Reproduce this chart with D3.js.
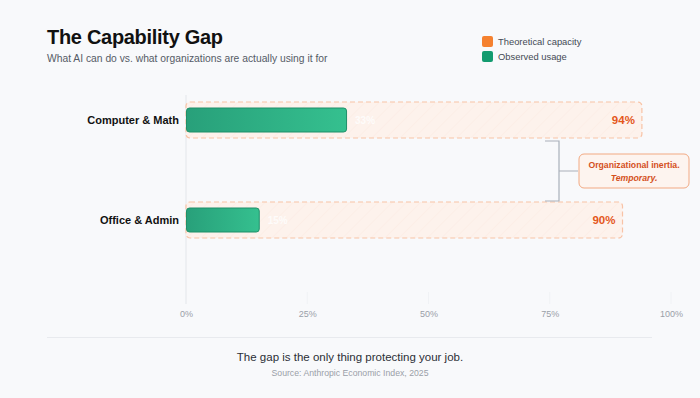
<!DOCTYPE html>
<html>
  <head>
    <title>The Capability Gap</title>
    <script src="https://d3js.org/d3.v7.min.js"></script>
    <style>
      body { margin: 0; background: #f8f9fb; }
      svg { display: block; font-family: "Liberation Sans", Arial, sans-serif; }
    </style>
  </head>
  <body>
    <div id="chart"></div>
    <script>
// Data
const categories = ["Computer & Math", "Office & Admin"];
const theoretical = [94, 90];
const observed = [33, 15];
const tickValues = [0, 25, 50, 75, 100];

const width = 700;
const height = 398;
const marginLeft = 186;
const marginRight = 29;

const svg = d3.select("#chart").append("svg")
  .attr("width", width)
  .attr("height", height)
  .attr("viewBox", [0, 0, width, height]);

const defs = svg.append("defs");

// hatch pattern for theoretical bars
const pat = defs.append("pattern")
  .attr("id", "hatch")
  .attr("patternUnits", "userSpaceOnUse")
  .attr("width", 10)
  .attr("height", 10)
  .attr("patternTransform", "rotate(45)");
pat.append("rect").attr("width", 10).attr("height", 10).attr("fill", "#fdf2ec");
pat.append("line").attr("x1", 0).attr("y1", 0).attr("x2", 0).attr("y2", 10)
  .attr("stroke", "#fcebe2").attr("stroke-width", 1);

const grad = defs.append("linearGradient").attr("id", "green");
grad.append("stop").attr("offset", "0%").attr("stop-color", "#28a07a");
grad.append("stop").attr("offset", "100%").attr("stop-color", "#35c08f");

// Scales
const x = d3.scaleLinear().domain([0, 100]).range([marginLeft, width - marginRight]);
const y = d3.scaleBand().domain(categories).range([70, 270])
  .paddingInner(0.64).paddingOuter(0.32);

// Title
svg.append("text")
  .attr("x", 47).attr("y", 44)
  .style("font-size", "20px").style("font-weight", "bold").attr("fill", "#111")
  .attr("letter-spacing", "-0.3")
  .text("The Capability Gap");

svg.append("text")
  .attr("x", 47).attr("y", 62)
  .style("font-size", "10.3px").attr("fill", "#555b66")
  .text("What AI can do vs. what organizations are actually using it for");

// Legend
const legend = [
  { label: "Theoretical capacity", color: "#f5812f" },
  { label: "Observed usage", color: "#139b6f" }
];
const lg = svg.append("g").selectAll("g").data(legend).join("g")
  .attr("transform", (d, i) => `translate(482,${36 + i * 15})`);
lg.append("rect").attr("width", 11).attr("height", 11).attr("rx", 2)
  .attr("fill", d => d.color);
lg.append("text").attr("x", 16).attr("y", 9)
  .style("font-size", "9.4px").attr("fill", "#444a55")
  .text(d => d.label);

// Grid lines
svg.append("g").selectAll("line").data(tickValues).join("line")
  .attr("x1", d => x(d)).attr("x2", d => x(d))
  .attr("y1", d => d === 0 ? 95 : 292).attr("y2", 304)
  .attr("stroke", d => d === 0 ? "#e3e6ea" : "#f0f2f5");

// Axis
const axis = svg.append("g")
  .attr("transform", "translate(0,306)")
  .call(d3.axisBottom(x).tickValues(tickValues).tickFormat(d => d + "%").tickSize(0));
axis.select(".domain").remove();
axis.selectAll("text")
  .attr("dy", "0.9em")
  .style("font-size", "9px")
  .style("font-family", "\"Liberation Sans\", Arial, sans-serif")
  .attr("fill", "#9aa0a8");

const rows = categories.map((c, i) => ({ cat: c, theo: theoretical[i], obs: observed[i] }));
const bh = y.bandwidth();

// Theoretical bars
svg.append("g").selectAll("rect").data(rows).join("rect")
  .attr("x", x(0)).attr("y", d => y(d.cat))
  .attr("width", d => x(d.theo) - x(0)).attr("height", bh)
  .attr("rx", 4)
  .attr("fill", "url(#hatch)")
  .attr("stroke", "#f8c3a6").attr("stroke-width", 1.2)
  .attr("stroke-dasharray", "5,3");

// Observed bars
const ob = 24;
svg.append("g").selectAll("rect").data(rows).join("rect")
  .attr("x", x(0) + 0.5).attr("y", d => y(d.cat) + (bh - ob) / 2)
  .attr("width", d => x(d.obs) - x(0)).attr("height", ob)
  .attr("rx", 3)
  .attr("fill", "url(#green)")
  .attr("stroke", "#1f8f69").attr("stroke-width", 1);

// Observed value labels (faint, on the pale bar)
svg.append("g").selectAll("text").data(rows).join("text")
  .attr("x", d => x(d.obs) + 9).attr("y", d => y(d.cat) + bh / 2 + 4)
  .style("font-size", "10px").style("font-weight", "bold").attr("fill", "#ffffff")
  .attr("opacity", 0.8)
  .text(d => d.obs + "%");

// Theoretical value labels
svg.append("g").selectAll("text").data(rows).join("text")
  .attr("x", d => x(d.theo) - 7).attr("y", d => y(d.cat) + bh / 2 + 4)
  .attr("text-anchor", "end")
  .style("font-size", "11.5px").style("font-weight", "bold").attr("fill", "#e4571b")
  .text(d => d.theo + "%");

// Category labels
svg.append("g").selectAll("text").data(rows).join("text")
  .attr("x", 179).attr("y", d => y(d.cat) + bh / 2 + 4)
  .attr("text-anchor", "end")
  .style("font-size", "11px").style("font-weight", "bold").attr("fill", "#111")
  .text(d => d.cat);

// Bracket between bars
const bx = 559;
const by1 = y(categories[0]) + bh + 3;
const by2 = y(categories[1]) - 1;
svg.append("path")
  .attr("d", `M${bx - 14},${by1}H${bx}V${by2}H${bx - 14}M${bx},${(by1 + by2) / 2}H${bx + 19}`)
  .attr("fill", "none").attr("stroke", "#a9b0ba").attr("stroke-width", 1.2);

// Callout
const cy = (by1 + by2) / 2;
svg.append("rect")
  .attr("x", 579).attr("y", cy - 17).attr("width", 110).attr("height", 34)
  .attr("rx", 5)
  .attr("fill", "#fdf4ef").attr("stroke", "#f2a982").attr("stroke-width", 1);
svg.append("text")
  .attr("x", 634).attr("y", cy - 3)
  .attr("text-anchor", "middle")
  .style("font-size", "8.7px").style("font-weight", "bold").attr("fill", "#d4501c")
  .text("Organizational inertia.");
svg.append("text")
  .attr("x", 634).attr("y", cy + 10)
  .attr("text-anchor", "middle")
  .style("font-size", "8.7px").style("font-weight", "bold").style("font-style", "italic")
  .attr("fill", "#d4501c")
  .text("Temporary.");

// Footer
svg.append("line")
  .attr("x1", 47).attr("x2", 652).attr("y1", 337.5).attr("y2", 337.5)
  .attr("stroke", "#e8eaee");
svg.append("text")
  .attr("x", 350).attr("y", 361)
  .attr("text-anchor", "middle")
  .style("font-size", "11.5px").attr("fill", "#2b2f36")
  .text("The gap is the only thing protecting your job.");
svg.append("text")
  .attr("x", 350).attr("y", 376)
  .attr("text-anchor", "middle")
  .style("font-size", "8.7px").attr("fill", "#9aa0a8")
  .text("Source: Anthropic Economic Index, 2025");
    </script>
  </body>
</html>
